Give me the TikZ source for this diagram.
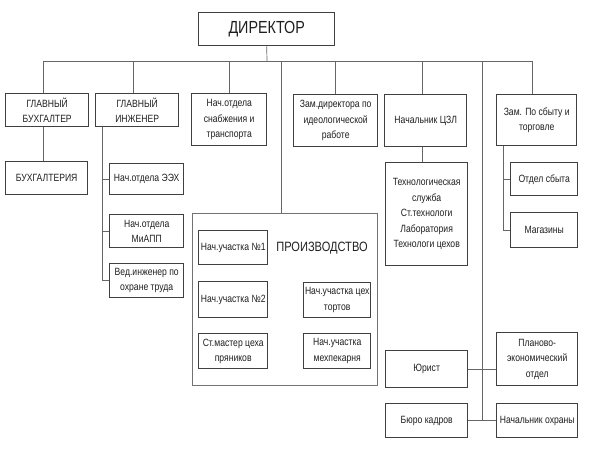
\documentclass[tikz,border=0pt]{standalone}
\usepackage{fontspec}
\setmainfont{Liberation Sans}[FakeStretch=0.82]
\usetikzlibrary{positioning}

\begin{document}
\begin{tikzpicture}[x=1pt, y=-1pt,
  unit/.style={rectangle, draw=black!75, line width=1.4pt, inner sep=1pt,
               align=center, text=black!88, anchor=north west,
               font=\fontsize{10.5}{15.5}\selectfont},
  area/.style={rectangle, draw=black!55, line width=0.8pt, anchor=north west},
  link/.style={draw=black!60, line width=0.7pt},
]
\useasboundingbox (0,0) rectangle (589,455);

% top
\node[unit, minimum width=136, minimum height=33,
      font=\fontsize{17.5}{20}\selectfont] (dir) at (198,12) {ДИРЕКТОР};

% first level
\node[unit, minimum width=83, minimum height=33] (gbuh)  at (5,93)    {ГЛАВНЫЙ\\БУХГАЛТЕР};
\node[unit, minimum width=83, minimum height=33] (ging)  at (95,93)   {ГЛАВНЫЙ\\ИНЖЕНЕР};
\node[unit, minimum width=75, minimum height=52] (snab)  at (191,93)  {Нач.отдела\\снабжения и\\транспорта};
\node[unit, minimum width=84, minimum height=52] (zamid) at (293,94)  {Зам.директора по\\идеологической\\работе};
\node[unit, minimum width=82, minimum height=52] (czl)   at (384,94)  {Начальник ЦЗЛ};
\node[unit, minimum width=80, minimum height=51] (zamsb) at (496,94)  {Зам. По сбыту и\\торговле};

% second level
\node[unit, minimum width=82, minimum height=33] (buh)   at (5,161)   {БУХГАЛТЕРИЯ};
\node[unit, minimum width=74, minimum height=31] (eeh)   at (109,163) {Нач.отдела ЭЭХ};
\node[unit, minimum width=74, minimum height=33] (miapp) at (109,214) {Нач.отдела\\МиАПП};
\node[unit, minimum width=74, minimum height=34] (ved)   at (109,263) {Вед.инженер по\\охране труда};
\node[unit, minimum width=82, minimum height=103] (tech) at (385,162) {Технологическая\\служба\\Ст.технологи\\Лаборатория\\Технологи цехов};
\node[unit, minimum width=67, minimum height=33] (sbyt)  at (510,162) {Отдел сбыта};
\node[unit, minimum width=67, minimum height=35] (mag)   at (510,212) {Магазины};

% production
\node[area, minimum width=185, minimum height=172] (proizv) at (192,213) {};
\node[text=black!88, font=\fontsize{13.5}{16}\selectfont] (ptitle) at (322,248) {ПРОИЗВОДСТВО};
\node[unit, minimum width=69, minimum height=34] (uch1)  at (198,230) {Нач.участка №1};
\node[unit, minimum width=69, minimum height=36] (uch2)  at (198,281) {Нач.участка №2};
\node[unit, minimum width=69, minimum height=35] (pryan) at (198,333) {Ст.мастер цеха\\пряников};
\node[unit, minimum width=67, minimum height=35] (tort)  at (303,282) {Нач.участка цех\\тортов};
\node[unit, minimum width=67, minimum height=35] (mehp)  at (303,333) {Нач.участка\\мехпекарня};

% bottom right
\node[unit, minimum width=82, minimum height=37] (jur)   at (385,350) {Юрист};
\node[unit, minimum width=82, minimum height=34] (bur)   at (385,403) {Бюро кадров};
\node[unit, minimum width=81, minimum height=53] (plan)  at (496,332) {Планово-\\экономический\\отдел};
\node[unit, minimum width=81, minimum height=34] (ohr)   at (496,403) {Начальник охраны};

% connectors
\coordinate (bus) at (267,61);
\coordinate (rline) at (482,61);
\draw[link] (dir.south) -- (bus);
\draw[link] ([xshift=-4pt]gbuh.north |- bus) -- ([xshift=-4pt]zamsb.north |- bus);
\foreach \n/\dx in {gbuh/-4,ging/-4,snab/0,zamid/0,czl/-3,zamsb/-4,proizv/-4}
  \draw[link] ([xshift=\dx pt]\n.north |- bus) -- ([xshift=\dx pt]\n.north);
\draw[link] (rline) -- (rline |- bur.east);
\draw[link] (jur.east) -- (jur.east -| plan.west);
\draw[link] (bur.east) -- (bur.east -| ohr.west);
\draw[link] ([xshift=-4pt]gbuh.south) -- ([xshift=-4pt]gbuh.south |- buh.north);
\draw[link] ([xshift=-3pt]czl.south) -- ([xshift=-3pt]czl.south |- tech.north);

\coordinate (isp) at ([xshift=7pt]ging.south west);
\draw[link] (isp) -- (isp |- ved.west) -- (ved.west);
\draw[link] (isp |- eeh.west) -- (eeh.west);
\draw[link] (isp |- miapp.west) -- (miapp.west);

\coordinate (ssp) at ([xshift=7pt]zamsb.south west);
\draw[link] (ssp) -- (ssp |- mag.west) -- (mag.west);
\draw[link] (ssp |- sbyt.west) -- (sbyt.west);
\end{tikzpicture}
\end{document}
